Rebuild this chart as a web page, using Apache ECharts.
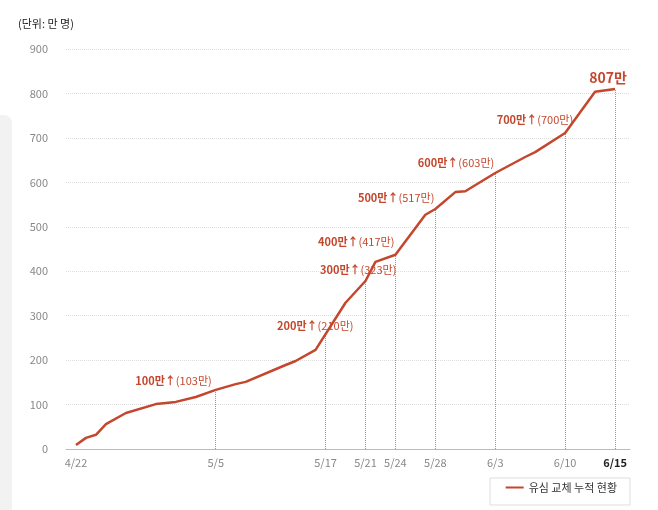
<!DOCTYPE html><html><head><meta charset="utf-8">
<script src="https://cdn.jsdelivr.net/npm/echarts@6/dist/echarts.min.js"></script>
<style>body{margin:0;background:#fff}#c{width:658px;height:510px}</style></head><body><div id="c"></div>
<script>
// day index from 4/22
const days = [0,1,2,3,5,8,10,12,14,16,17,21,22,24,27,29,30,32,35,36,38,39,42,45,46,49,52,54];
const values = [9,25,32,56,81,101,106,117,133,146,151,189,198,223,329,378,421,437,527,540,578,580,621,657,668,711,804,810];
const tickDays = [0,14,25,29,32,36,42,49,54];
const tickLabels = ['4/22','5/5','5/17','5/21','5/24','5/28','6/3','6/10','6/15'];
const lineDays = [14,25,29,32,36,42,49,54];
const lineTops = [133,256,378,437,540,621,711,810];
const annDays = [13.6,27.8,32.1,31.9,35.9,41.9,49.8];
const annVals = [153,277,403,466,565,644,741];
const annMain = ['100만↑','200만↑','300만↑','400만↑','500만↑','600만↑','700만↑'];
const annSub = ['(103만)','(210만)','(323만)','(417만)','(517만)','(603만)','(700만)'];
const C = '#c4472d';
const font = '"Noto Sans CJK KR","Noto Sans",sans-serif';
const chart = echarts.init(document.getElementById('c'));
chart.setOption({
  animation:false,
  textStyle:{fontFamily:font},
  graphic:[
    {type:'text',left:18,top:18,style:{text:'(단위: 만 명)',font:'11px '+font,fill:'#222'}},
    {type:'rect',shape:{x:-8,y:115,width:20,height:400,r:8},style:{fill:'#f2f2f2'}},
    {type:'rect',shape:{x:490,y:478,width:140,height:27},style:{fill:'#fff',stroke:'#ddd'}}
  ],
  grid:{left:66,right:28,top:49,bottom:61},
  legend:{right:36,bottom:12,itemWidth:18,itemHeight:2,icon:'rect',textStyle:{fontSize:11,color:'#333'}},
  xAxis:{type:'value',min:-1,max:55.5,splitLine:{show:false},
    axisLine:{lineStyle:{color:'#bbb'}},axisTick:{show:false},
    axisLabel:{customValues:tickDays,formatter:v=>{const i=tickDays.indexOf(v);return i===tickDays.length-1?'{b|'+tickLabels[i]+'}':tickLabels[i];},
      color:'#888',fontSize:11,margin:8,rich:{b:{fontWeight:'bold',color:'#222',fontSize:11}}}},
  yAxis:{type:'value',min:0,max:900,interval:100,axisLine:{show:false},axisTick:{show:false},
    axisLabel:{color:'#888',fontSize:11,margin:18},splitLine:{lineStyle:{color:'#ddd',type:'dotted'}}},
  series:[
    {name:'유심 교체 누적 현황',type:'line',data:days.map((d,i)=>[d,values[i]]),symbol:'none',
     lineStyle:{color:C,width:2.5},itemStyle:{color:C},
     markLine:{silent:true,symbol:'none',label:{show:false},lineStyle:{color:C,type:'dotted',width:1,opacity:0.7},
       data:lineDays.map((d,i)=>[{coord:[d,0]},{coord:[d,lineTops[i]]}])},
     markPoint:{symbol:'circle',symbolSize:0,silent:true,data:annDays.map((d,i)=>({coord:[d,annVals[i]],
        label:{show:true,position:'left',distance:0,formatter:'{m|'+annMain[i]+'}{s|'+annSub[i]+'}',
          rich:{m:{fontWeight:'bold',color:C,fontSize:11},s:{color:C,fontSize:11}}}})).concat([
        {coord:[53.3,835],label:{show:true,position:'inside',formatter:'807만',color:C,fontWeight:'bold',fontSize:14}}])}
    }
  ]
});
</script></body></html>
